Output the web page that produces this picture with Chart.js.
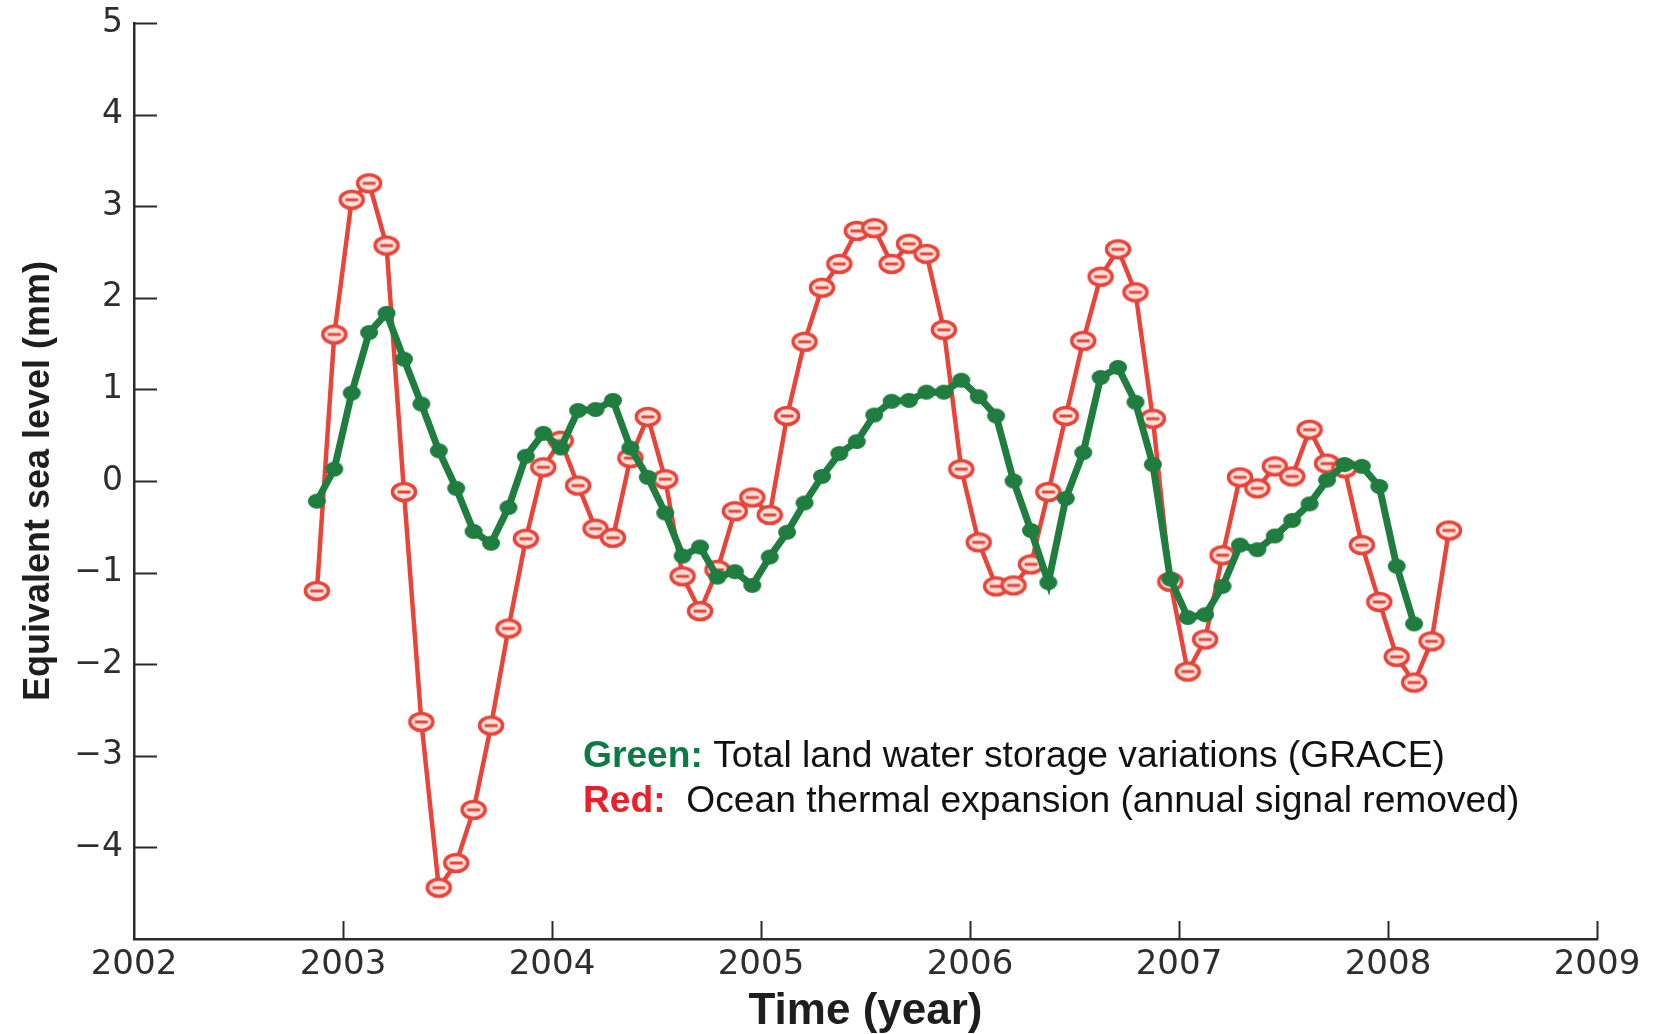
<!DOCTYPE html>
<html>
<head>
<meta charset="utf-8">
<script src="https://cdn.jsdelivr.net/npm/chart.js@4.4.1/dist/chart.umd.min.js"></script>
<style>
  html, body { margin: 0; padding: 0; background: #fff; }
  canvas { display: block; }
</style>
</head>
<body>
<canvas id="wykres" width="1653" height="1034"></canvas>
<script>
// miesiace pomiarow (srodek miesiaca)
const months = [
  "2002-11", "2002-12",
  "2003-01", "2003-02", "2003-03", "2003-04", "2003-05", "2003-06", "2003-07", "2003-08", "2003-09", "2003-10", "2003-11", "2003-12",
  "2004-01", "2004-02", "2004-03", "2004-04", "2004-05", "2004-06", "2004-07", "2004-08", "2004-09", "2004-10", "2004-11", "2004-12",
  "2005-01", "2005-02", "2005-03", "2005-04", "2005-05", "2005-06", "2005-07", "2005-08", "2005-09", "2005-10", "2005-11", "2005-12",
  "2006-01", "2006-02", "2006-03", "2006-04", "2006-05", "2006-06", "2006-07", "2006-08", "2006-09", "2006-10", "2006-11", "2006-12",
  "2007-01", "2007-02", "2007-03", "2007-04", "2007-05", "2007-06", "2007-07", "2007-08", "2007-09", "2007-10", "2007-11", "2007-12",
  "2008-01", "2008-02", "2008-03", "2008-04"
];

// Red: ocean thermal expansion (mm), Nov 2002 - Apr 2008
const thermal = [
  -1.20, 1.60,
  3.07, 3.25, 2.57, -0.12, -2.63, -4.44, -4.17, -3.59, -2.67, -1.61, -0.63, 0.15,
  0.44, -0.05, -0.52, -0.62, 0.25, 0.70, 0.02, -1.04, -1.42, -0.97, -0.33, -0.18,
  -0.37, 0.71, 1.52, 2.11, 2.37, 2.73, 2.76, 2.37, 2.59, 2.48, 1.65, 0.13,
  -0.67, -1.15, -1.14, -0.91, -0.12, 0.71, 1.53, 2.23, 2.53, 2.06, 0.68, -1.10,
  -2.08, -1.73, -0.81, 0.04, -0.08, 0.16, 0.05, 0.56, 0.19, 0.14, -0.70, -1.32,
  -1.92, -2.20, -1.75, -0.54
];

// Green: total land water storage (GRACE), Nov 2002 - Feb 2008
const landWater = [
  -0.22, 0.13,
  0.96, 1.62, 1.83, 1.33, 0.84, 0.33, -0.08, -0.55, -0.68, -0.29, 0.27, 0.52,
  0.36, 0.77, 0.78, 0.88, 0.36, 0.04, -0.35, -0.82, -0.72, -1.05, -0.99, -1.14,
  -0.83, -0.56, -0.24, 0.05, 0.30, 0.43, 0.72, 0.87, 0.88, 0.97, 0.97, 1.10,
  0.92, 0.71, 0.00, -0.54, -1.11, -0.19, 0.31, 1.13, 1.24, 0.86, 0.18, -1.07,
  -1.49, -1.46, -1.15, -0.70, -0.75, -0.60, -0.43, -0.25, 0.01, 0.18, 0.16, -0.06,
  -0.93, -1.56
];

const yearTicks = ["2002", "2003", "2004", "2005", "2006", "2007", "2008", "2009"];
const levelValues = [-4, -3, -2, -1, 0, 1, 2, 3, 4, 5];
const levelTicks = ["\u22124", "\u22123", "\u22122", "\u22121", "0", "1", "2", "3", "4", "5"];

function toYear(s) {
  const [r, m] = s.split("-").map(Number);
  return r + (m - 0.5) / 12;
}

function marker(w, h, fill, stroke, lw, dash) {
  const c = document.createElement("canvas");
  c.width = w + lw * 2 + 2;
  c.height = h + lw * 2 + 2;
  const g = c.getContext("2d");
  g.beginPath();
  g.ellipse(c.width / 2, c.height / 2, w / 2, h / 2, 0, 0, Math.PI * 2);
  g.fillStyle = fill;
  g.fill();
  if (stroke) {
    g.lineWidth = lw;
    g.strokeStyle = stroke;
    g.stroke();
  }
  if (dash) {
    g.beginPath();
    g.moveTo(c.width / 2 - w * 0.28, c.height / 2);
    g.lineTo(c.width / 2 + w * 0.28, c.height / 2);
    g.lineWidth = 3;
    g.strokeStyle = stroke;
    g.stroke();
  }
  return c;
}

const RED = "#e8443a";
const GREEN = "#1f7d3f";

const tickMarks = {
  id: "tickMarks",
  afterDraw(chart) {
    const { ctx, chartArea: a, scales: { x, y } } = chart;
    ctx.save();
    ctx.strokeStyle = "#2b2b2b";
    ctx.lineWidth = 2;
    ctx.beginPath();
    y.ticks.forEach(t => {
      if (t.value <= -5) return;
      const py = Math.round(y.getPixelForValue(t.value)) + 0.5;
      ctx.moveTo(a.left, py);
      ctx.lineTo(a.left + 23, py);
    });
    x.ticks.forEach(t => {
      if (t.value <= 2002) return;
      const px = Math.round(x.getPixelForValue(t.value)) + 0.5;
      ctx.moveTo(px, a.bottom);
      ctx.lineTo(px, a.bottom - 18);
    });
    ctx.stroke();
    ctx.restore();
  }
};

const opis = {
  id: "opis",
  afterDraw(chart) {
    const { ctx, chartArea: a } = chart;
    const left = a.left + 449;
    const rows = [
      { key: "Green:", keyColor: "#0b7a45", text: " Total land water storage variations (GRACE)", base: a.top + 744 },
      { key: "Red:", keyColor: "#e8202a", text: "  Ocean thermal expansion (annual signal removed)", base: a.top + 789 }
    ];
    ctx.save();
    ctx.textBaseline = "alphabetic";
    ctx.textAlign = "left";
    rows.forEach(r => {
      ctx.font = "bold 37.2px 'Liberation Sans', Arial, sans-serif";
      ctx.fillStyle = r.keyColor;
      ctx.fillText(r.key, left, r.base);
      const w = ctx.measureText(r.key).width;
      ctx.font = "37.2px 'Liberation Sans', Arial, sans-serif";
      ctx.fillStyle = "#111";
      ctx.fillText(r.text, left + w, r.base);
    });
    ctx.restore();
  }
};

let ctx = document.getElementById("wykres").getContext("2d");
let lineChart = new Chart(ctx, {
  type: "line",
  data: {
    datasets: [
      {
        label: "Total land water storage variations (GRACE)",
        data: landWater.map((v, i) => ({ x: toYear(months[i]), y: v })),
        borderColor: GREEN,
        borderWidth: 7,
        pointStyle: marker(18, 15, GREEN, null, 0, false),
        tension: 0,
        fill: false
      },
      {
        label: "Ocean thermal expansion (annual signal removed)",
        data: thermal.map((v, i) => ({ x: toYear(months[i]), y: v })),
        borderColor: RED,
        borderWidth: 4.5,
        pointStyle: marker(23, 17, "#fde2dc", RED, 3.5, true),
        tension: 0,
        fill: false
      }
    ]
  },
  options: {
    responsive: false,
    animation: false,
    layout: { padding: { top: 23, right: 56, left: 0, bottom: 0 } },
    plugins: {
      legend: { display: false },
      tooltip: { enabled: false }
    },
    scales: {
      x: {
        type: "linear",
        min: 2002,
        max: 2009,
        grid: { display: false, drawTicks: false, tickLength: 0 },
        border: { display: true, color: "#2b2b2b", width: 2.5 },
        ticks: {
          stepSize: 1,
          padding: 6,
          maxRotation: 0,
          autoSkip: false,
          color: "#2e2e2e",
          font: { family: "'DejaVu Sans'", size: 34 },
          callback: v => yearTicks[v - 2002] ?? ""
        },
        title: {
          display: true,
          text: "Time (year)",
          color: "#1e1e1e",
          font: { family: "'Liberation Sans'", weight: "bold", size: 44, lineHeight: 1 },
          padding: { top: 0, bottom: 0 }
        },
        afterFit: s => { s.height = 95; s.paddingLeft = 0; s.paddingRight = 0; }
      },
      y: {
        min: -5,
        max: 5,
        grid: { display: false, drawTicks: false, tickLength: 0 },
        border: { display: true, color: "#2b2b2b", width: 2.5 },
        ticks: {
          stepSize: 1,
          padding: 11,
          color: "#2e2e2e",
          font: { family: "'DejaVu Sans'", size: 33 },
          callback: v => {
            const i = levelValues.indexOf(v);
            return i >= 0 ? levelTicks[i] : "";
          }
        },
        title: {
          display: true,
          text: "Equivalent sea level (mm)",
          color: "#1e1e1e",
          font: { family: "'Liberation Sans'", weight: "bold", size: 36 },
          padding: { top: 17, bottom: 0 }
        },
        afterFit: s => { s.width = 134; s.paddingTop = 0; s.paddingBottom = 0; }
      }
    }
  },
  plugins: [tickMarks, opis]
});
</script>
</body>
</html>
